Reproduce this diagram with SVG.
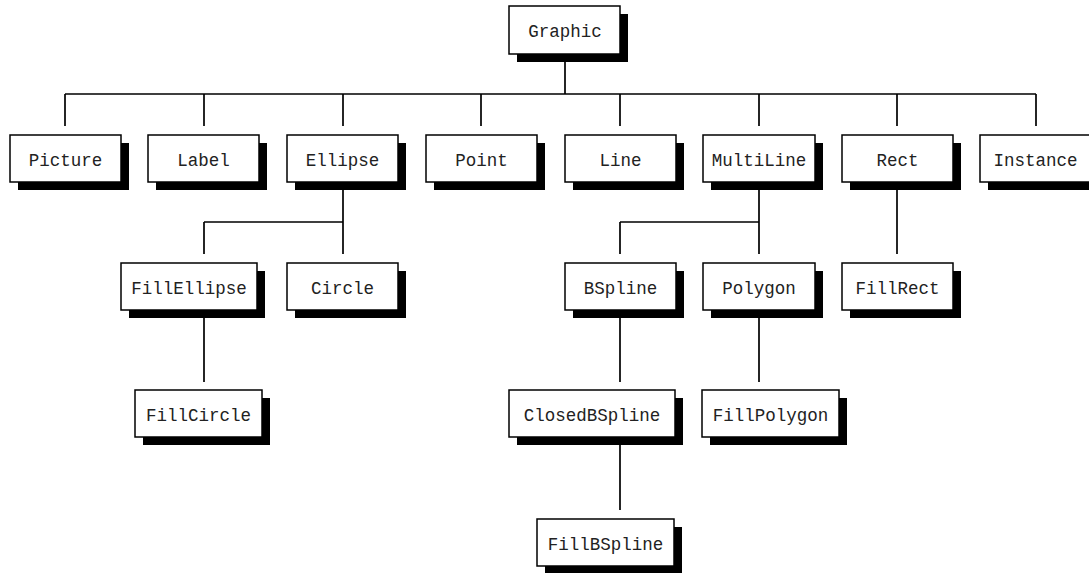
<svg xmlns="http://www.w3.org/2000/svg" width="1089" height="573" viewBox="0 0 1089 573">
<style>
.box{fill:#fff;stroke:#000;stroke-width:1.5}
.sh{fill:#000}
.t{font-family:"Liberation Mono","Courier New",monospace;font-size:17.5px;fill:#222;text-anchor:middle}
.c{fill:none;stroke:#000;stroke-width:1.7}
</style>
<rect width="1089" height="573" fill="#fff"/>
<g id="connectors">
<path class="c" d="M565,54V94M65,94H1036M65,94V126M204,94V126M343,94V126M481,94V126M620,94V126M759,94V126M897,94V126M1036,94V126"/>
<path class="c" d="M343,182V222M204,222H343M204,222V254M343,222V254"/>
<path class="c" d="M759,182V222M620,222H759M620,222V254M759,222V254"/>
<path class="c" d="M897,182V254"/>
<path class="c" d="M204,310V382M620,310V382M759,310V382M620,437V510"/>
</g>
<g id="Graphic"><rect class="sh" x="517" y="14" width="111" height="48"/><rect class="box" x="509" y="6" width="111" height="48"/><text class="t" x="565" y="37">Graphic</text></g>
<g id="Picture"><rect class="sh" x="18" y="143" width="111" height="47"/><rect class="box" x="10" y="135" width="111" height="47"/><text class="t" x="65.5" y="166">Picture</text></g>
<g id="Label"><rect class="sh" x="156" y="143" width="111" height="47"/><rect class="box" x="148" y="135" width="111" height="47"/><text class="t" x="203.5" y="166">Label</text></g>
<g id="Ellipse"><rect class="sh" x="295" y="143" width="111" height="47"/><rect class="box" x="287" y="135" width="111" height="47"/><text class="t" x="342.5" y="166">Ellipse</text></g>
<g id="Point"><rect class="sh" x="434" y="143" width="111" height="47"/><rect class="box" x="426" y="135" width="111" height="47"/><text class="t" x="481.5" y="166">Point</text></g>
<g id="Line"><rect class="sh" x="573" y="143" width="111" height="47"/><rect class="box" x="565" y="135" width="111" height="47"/><text class="t" x="620.5" y="166">Line</text></g>
<g id="MultiLine"><rect class="sh" x="711" y="143" width="112" height="47"/><rect class="box" x="703" y="135" width="112" height="47"/><text class="t" x="759" y="166">MultiLine</text></g>
<g id="Rect"><rect class="sh" x="850" y="143" width="111" height="47"/><rect class="box" x="842" y="135" width="111" height="47"/><text class="t" x="897.5" y="166">Rect</text></g>
<g id="Instance"><rect class="sh" x="988" y="143" width="111" height="47"/><rect class="box" x="980" y="135" width="111" height="47"/><text class="t" x="1035.5" y="166">Instance</text></g>
<g id="FillEllipse"><rect class="sh" x="129" y="271" width="136" height="47"/><rect class="box" x="121" y="263" width="136" height="47"/><text class="t" x="189" y="294">FillEllipse</text></g>
<g id="Circle"><rect class="sh" x="295" y="271" width="111" height="47"/><rect class="box" x="287" y="263" width="111" height="47"/><text class="t" x="342.5" y="294">Circle</text></g>
<g id="BSpline"><rect class="sh" x="573" y="271" width="111" height="47"/><rect class="box" x="565" y="263" width="111" height="47"/><text class="t" x="620.5" y="294">BSpline</text></g>
<g id="Polygon"><rect class="sh" x="711" y="271" width="112" height="47"/><rect class="box" x="703" y="263" width="112" height="47"/><text class="t" x="759" y="294">Polygon</text></g>
<g id="FillRect"><rect class="sh" x="850" y="271" width="111" height="47"/><rect class="box" x="842" y="263" width="111" height="47"/><text class="t" x="897.5" y="294">FillRect</text></g>
<g id="FillCircle"><rect class="sh" x="143" y="398" width="127" height="47"/><rect class="box" x="135" y="390" width="127" height="47"/><text class="t" x="198.5" y="421">FillCircle</text></g>
<g id="ClosedBSpline"><rect class="sh" x="517" y="398" width="166" height="47"/><rect class="box" x="509" y="390" width="166" height="47"/><text class="t" x="592" y="421">ClosedBSpline</text></g>
<g id="FillPolygon"><rect class="sh" x="710" y="398" width="137" height="47"/><rect class="box" x="702" y="390" width="137" height="47"/><text class="t" x="770.5" y="421">FillPolygon</text></g>
<g id="FillBSpline"><rect class="sh" x="545" y="527" width="137" height="47"/><rect class="box" x="537" y="519" width="137" height="47"/><text class="t" x="605.5" y="550">FillBSpline</text></g>
</svg>
